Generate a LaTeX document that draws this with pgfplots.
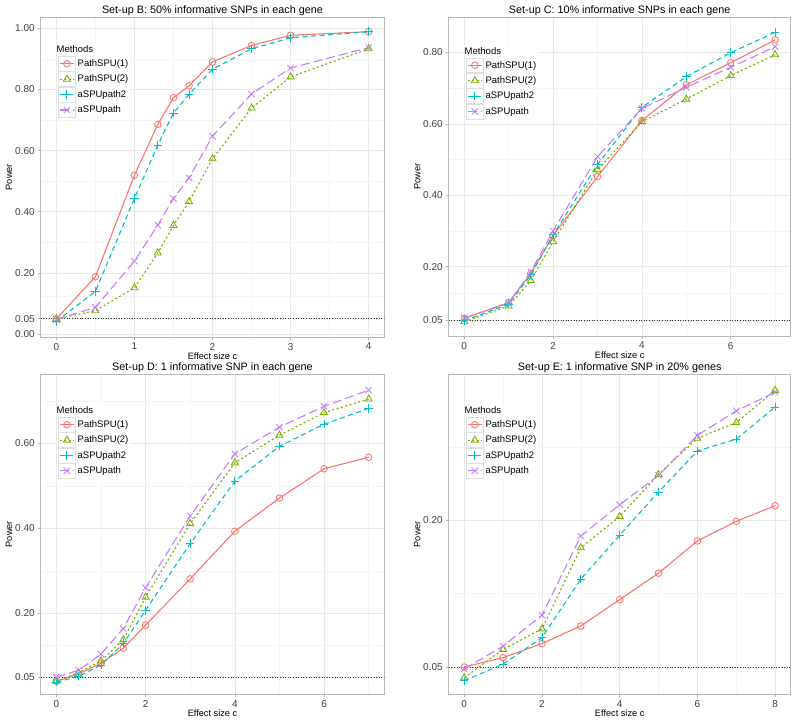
\documentclass[border=0pt]{standalone}
\usepackage{pgfplots}
\pgfplotsset{compat=1.18}
\usepackage{fontspec}
\setmainfont{Liberation Sans}
\definecolor{cR}{HTML}{F8766D}
\definecolor{cG}{HTML}{7CAE00}
\definecolor{cC}{HTML}{00BFC4}
\definecolor{cP}{HTML}{C77CFF}
\pgfplotsset{
  panel/.style={
    scale only axis,
    axis line style={draw=gray!55, line width=0.6pt},
    grid=both,
    major grid style={draw=gray!17, line width=0.5pt},
    minor grid style={draw=gray!8, line width=0.4pt},
    tick align=outside, tick pos=left,
    major tick length=2.5pt, minor tick length=0pt,
    tick style={draw=gray!60, line width=0.5pt},
    ticklabel style={font=\fontsize{10}{11}\selectfont, text=black!75},
    /pgf/number format/assume math mode=true,
    xlabel={Effect size c}, ylabel={Power},
    xlabel shift=-4.5pt, ylabel shift=-4pt,
    label style={font=\fontsize{9.2}{11}\selectfont},
    title style={font=\fontsize{10.8}{12}\selectfont, inner sep=0pt, yshift=-5pt},
    legend cell align=left,
    legend style={draw=none, fill=white, font=\fontsize{9.5}{11}\selectfont,
      row sep=0pt, inner sep=0pt, anchor=north west,
      /tikz/every even column/.append style={column sep=2pt}},
    legend image code/.code={
      \draw[draw=gray!25, fill=white, solid, line width=0.6pt] (0pt,-7.4pt) rectangle (17pt,7.4pt);
      \draw[mark repeat=2, mark phase=2] plot coordinates {(1.5pt,0pt) (8.5pt,0pt) (15.5pt,0pt)};
    },
  },
  s1/.style={cR, solid, line width=1.1pt, mark=o, mark size=3.3pt, mark options={solid, line width=0.85pt}},
  s2/.style={cG, dash pattern=on 2pt off 2.5pt, line width=1.1pt, mark=triangle, mark size=4pt, mark options={solid, line width=0.85pt}},
  s3/.style={cC, dash pattern=on 5pt off 3.5pt, line width=1.1pt, mark=+, mark size=4.2pt, mark options={solid, line width=0.85pt}},
  s4/.style={cP, dash pattern=on 9pt off 4pt, line width=1.1pt, mark=x, mark size=4.5pt, mark options={solid, line width=0.85pt}},
  ref/.style={black!80, dotted, line width=0.6pt, forget plot},
}
\begin{document}
\begin{tikzpicture}
\path[use as bounding box] (0pt,0pt) rectangle (800pt,724pt);

% ---------- Set-up B ----------
\begin{axis}[panel, at={(40.7pt,387pt)}, anchor=south west, width=343.6pt, height=319.7pt,
  title={Set-up B: 50\% informative SNPs in each gene},
  xmin=-0.2, xmax=4.2, ymin=-0.01, ymax=1.036,
  xtick={0,1,2,3,4}, minor xtick={0.5,1.5,2.5,3.5},
  ytick={0,0.05,0.2,0.4,0.6,0.8,1.0}, yticklabels={0.00,0.05,0.20,0.40,0.60,0.80,1.00},
  minor ytick={0.125,0.3,0.5,0.7,0.9},
  legend style={at={(0.05,0.918)}}]
\addlegendimage{empty legend}\addlegendentry{\hspace*{-21pt}Methods}
\addplot[ref] coordinates {(-0.2,0.05) (4.2,0.05)};
\addplot[s1] coordinates {(0,0.049) (0.5,0.187) (1,0.519) (1.3,0.686) (1.5,0.773) (1.7,0.812) (2,0.890) (2.5,0.944) (3,0.977) (4,0.989)};
\addlegendentry{PathSPU(1)}
\addplot[s2] coordinates {(0,0.049) (0.5,0.076) (1,0.151) (1.3,0.265) (1.5,0.355) (1.7,0.433) (2,0.573) (2.5,0.739) (3,0.841) (4,0.933)};
\addlegendentry{PathSPU(2)}
\addplot[s3] coordinates {(0,0.041) (0.5,0.139) (1,0.443) (1.3,0.618) (1.5,0.723) (1.7,0.784) (2,0.866) (2.5,0.933) (3,0.969) (4,0.989)};
\addlegendentry{aSPUpath2}
\addplot[s4] coordinates {(0,0.047) (0.5,0.087) (1,0.238) (1.3,0.356) (1.5,0.443) (1.7,0.511) (2,0.647) (2.5,0.785) (3,0.870) (4,0.937)};
\addlegendentry{aSPUpath}
\end{axis}

% ---------- Set-up C ----------
\begin{axis}[panel, at={(448.7pt,388pt)}, anchor=south west, width=342pt, height=318.7pt,
  title={Set-up C: 10\% informative SNPs in each gene},
  xmin=-0.35, xmax=7.35, ymin=0.006, ymax=0.898,
  xtick={0,2,4,6}, minor xtick={1,3,5,7},
  ytick={0.05,0.2,0.4,0.6,0.8}, yticklabels={0.05,0.20,0.40,0.60,0.80},
  minor ytick={0.125,0.3,0.5,0.7},
  legend style={at={(0.05,0.913)}}]
\addlegendimage{empty legend}\addlegendentry{\hspace*{-21pt}Methods}
\addplot[ref] coordinates {(-0.35,0.05) (7.35,0.05)};
\addplot[s1] coordinates {(0,0.055) (1,0.100) (1.5,0.181) (2,0.287) (3,0.452) (4,0.609) (5,0.709) (6,0.771) (7,0.835)};
\addlegendentry{PathSPU(1)}
\addplot[s2] coordinates {(0,0.046) (1,0.090) (1.5,0.161) (2,0.270) (3,0.471) (4,0.606) (5,0.669) (6,0.735) (7,0.793)};
\addlegendentry{PathSPU(2)}
\addplot[s3] coordinates {(0,0.049) (1,0.095) (1.5,0.177) (2,0.289) (3,0.486) (4,0.646) (5,0.732) (6,0.799) (7,0.856)};
\addlegendentry{aSPUpath2}
\addplot[s4] coordinates {(0,0.057) (1,0.097) (1.5,0.186) (2,0.300) (3,0.508) (4,0.643) (5,0.702) (6,0.758) (7,0.816)};
\addlegendentry{aSPUpath}
\end{axis}

% ---------- Set-up D ----------
\begin{axis}[panel, at={(40.7pt,29.7pt)}, anchor=south west, width=343.6pt, height=320.3pt,
  title={Set-up D: 1 informative SNP in each gene},
  xmin=-0.35, xmax=7.35, ymin=0.0094, ymax=0.763,
  xtick={0,2,4,6}, minor xtick={1,3,5,7},
  ytick={0.05,0.2,0.4,0.6}, yticklabels={0.05,0.20,0.40,0.60},
  minor ytick={0.125,0.3,0.5,0.7},
  legend style={at={(0.05,0.905)}}]
\addlegendimage{empty legend}\addlegendentry{\hspace*{-21pt}Methods}
\addplot[ref] coordinates {(-0.35,0.05) (7.35,0.05)};
\addplot[s1] coordinates {(0,0.040) (0.5,0.058) (1,0.082) (1.5,0.118) (2,0.172) (3,0.281) (4,0.393) (5,0.471) (6,0.540) (7,0.567)};
\addlegendentry{PathSPU(1)}
\addplot[s2] coordinates {(0,0.040) (0.5,0.060) (1,0.088) (1.5,0.138) (2,0.238) (3,0.411) (4,0.554) (5,0.619) (6,0.672) (7,0.704)};
\addlegendentry{PathSPU(2)}
\addplot[s3] coordinates {(0,0.038) (0.5,0.052) (1,0.078) (1.5,0.129) (2,0.207) (3,0.364) (4,0.511) (5,0.593) (6,0.645) (7,0.682)};
\addlegendentry{aSPUpath2}
\addplot[s4] coordinates {(0,0.050) (0.5,0.066) (1,0.104) (1.5,0.164) (2,0.260) (3,0.429) (4,0.575) (5,0.638) (6,0.687) (7,0.725)};
\addlegendentry{aSPUpath}
\end{axis}

% ---------- Set-up E ----------
\begin{axis}[panel, at={(448.7pt,29.7pt)}, anchor=south west, width=342pt, height=320.3pt,
  title={Set-up E: 1 informative SNP in 20\% genes},
  xmin=-0.4, xmax=8.4, ymin=0.0221, ymax=0.3497,
  xtick={0,2,4,6,8}, minor xtick={1,3,5,7},
  ytick={0.05,0.2}, yticklabels={0.05,0.20},
  minor ytick={0.125,0.275},
  legend style={at={(0.05,0.905)}}]
\addlegendimage{empty legend}\addlegendentry{\hspace*{-21pt}Methods}
\addplot[ref] coordinates {(-0.4,0.05) (8.4,0.05)};
\addplot[s1] coordinates {(0,0.050) (1,0.0596) (2,0.074) (3,0.092) (4,0.119) (5,0.146) (6,0.179) (7,0.199) (8,0.215)};
\addlegendentry{PathSPU(1)}
\addplot[s2] coordinates {(0,0.039) (1,0.068) (2,0.089) (3,0.172) (4,0.204) (5,0.247) (6,0.284) (7,0.300) (8,0.333)};
\addlegendentry{PathSPU(2)}
\addplot[s3] coordinates {(0,0.036) (1,0.053) (2,0.080) (3,0.140) (4,0.185) (5,0.229) (6,0.271) (7,0.283) (8,0.316)};
\addlegendentry{aSPUpath2}
\addplot[s4] coordinates {(0,0.048) (1,0.0715) (2,0.103) (3,0.184) (4,0.216) (5,0.246) (6,0.287) (7,0.312) (8,0.331)};
\addlegendentry{aSPUpath}
\end{axis}
\end{tikzpicture}
\end{document}
